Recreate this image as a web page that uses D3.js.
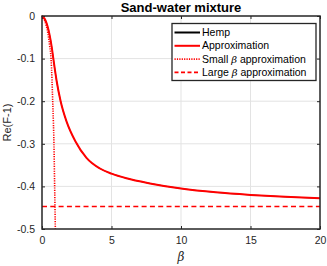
<!DOCTYPE html>
<html>
<head>
<meta charset="utf-8">
<script src="https://cdn.jsdelivr.net/npm/d3@7"></script>
<style>
  body { margin: 0; background: #fff; }
  svg { font-family: "Liberation Sans", Arial, sans-serif; }
</style>
</head>
<body>
<svg width="327" height="266"></svg>
<script>
const width = 327;
const height = 266;
const margin = { top: 16, right: 7, bottom: 37, left: 42 };
const innerWidth = width - margin.left - margin.right;
const innerHeight = height - margin.top - margin.bottom;

// values
const xTicks = [0, 5, 10, 15, 20];
const yTicks = [0, -0.1, -0.2, -0.3, -0.4, -0.5];
const yTickLabels = ["0", "-0.1", "-0.2", "-0.3", "-0.4", "-0.5"];

const approxBeta = [0, 0.26, 0.53, 0.7, 0.81, 1.05, 1.34, 1.77, 2.4, 3.2, 4.17, 5, 6.08, 7.76, 10, 12.5, 15, 17.5, 20];
const approxVal = [0, -0.011, -0.042, -0.073, -0.099, -0.152, -0.2, -0.248, -0.294, -0.333, -0.358, -0.37, -0.381, -0.393, -0.405, -0.414, -0.42, -0.4245, -0.428];
const hempBeta = approxBeta;
const hempVal = approxVal;
const smallBeta = [0, 0.19, 0.43, 0.55, 0.65, 0.72, 0.77, 0.82, 0.86, 0.91, 0.96];
const smallVal = [0, -0.011, -0.042, -0.07, -0.1, -0.15, -0.2, -0.25, -0.3, -0.4, -0.5];
const largeBeta = [0, 20];
const largeVal = [-0.447, -0.447];

const legendItems = [
    { label: "Hemp", color: "#000", dash: null },
    { label: "Approximation", color: "#f00", dash: null },
    { label: "Small |β| approximation", color: "#f00", dash: "1.2,1.2" },
    { label: "Large |β| approximation", color: "#f00", dash: "4,2.5" },
];

const svg = d3.select("svg");
const g = svg.append("g").attr("transform", `translate(${margin.left}, ${margin.top})`);

const x = d3.scaleLinear().domain([0, 20]).range([0, innerWidth]);
const y = d3.scaleLinear().domain([-0.5, 0]).range([innerHeight, 0]);

// grid
g.append("g").selectAll("line").data(xTicks.slice(1, -1)).enter().append("line")
    .attr("x1", (d) => x(d)).attr("x2", (d) => x(d))
    .attr("y1", 0).attr("y2", innerHeight)
    .attr("stroke", "#e3e3e3").attr("stroke-width", 1);
g.append("g").selectAll("line").data(yTicks.slice(1, -1)).enter().append("line")
    .attr("y1", (d) => y(d)).attr("y2", (d) => y(d))
    .attr("x1", 0).attr("x2", innerWidth)
    .attr("stroke", "#e3e3e3").attr("stroke-width", 1);

// axes
const axisColor = "#262626";
const styleAxis = (sel) => {
    sel.select(".domain").remove();
    sel.selectAll(".tick line").attr("stroke", axisColor);
    sel.selectAll(".tick text").attr("fill", axisColor).attr("font-size", 10.5);
};
const noLabels = (sel) => sel.selectAll(".tick text").remove();
g.append("g").attr("transform", `translate(0, ${innerHeight})`)
    .call(d3.axisBottom(x).tickValues(xTicks).tickSizeInner(-3).tickSizeOuter(0).tickPadding(8))
    .call(styleAxis);
g.append("g")
    .call(d3.axisTop(x).tickValues(xTicks).tickSizeInner(-3).tickSizeOuter(0))
    .call(styleAxis).call(noLabels);
g.append("g")
    .call(d3.axisLeft(y).tickValues(yTicks).tickSizeInner(-3).tickSizeOuter(0).tickPadding(7)
        .tickFormat((d, i) => yTickLabels[i]))
    .call(styleAxis);
g.append("g").attr("transform", `translate(${innerWidth}, 0)`)
    .call(d3.axisRight(y).tickValues(yTicks).tickSizeInner(-3).tickSizeOuter(0))
    .call(styleAxis).call(noLabels);

// lines
const line = d3.line().x((d) => x(d[0])).y((d) => y(d[1])).curve(d3.curveMonotoneX);
const plotG = g.append("g");
plotG.append("path").datum(d3.zip(hempBeta, hempVal))
    .attr("d", line).attr("fill", "none").attr("stroke", "#000").attr("stroke-width", 0.8);
plotG.append("path").datum(d3.zip(approxBeta, approxVal))
    .attr("d", line).attr("fill", "none").attr("stroke", "#f00").attr("stroke-width", 2);
plotG.append("path").datum(d3.zip(smallBeta, smallVal))
    .attr("d", line).attr("fill", "none").attr("stroke", "#f00").attr("stroke-width", 1.6)
    .attr("stroke-dasharray", "1.2,1.2");
plotG.append("path").datum(d3.zip(largeBeta, largeVal))
    .attr("d", line).attr("fill", "none").attr("stroke", "#f00").attr("stroke-width", 1.5)
    .attr("stroke-dasharray", "5,3.3");

// box
g.append("rect").attr("width", innerWidth).attr("height", innerHeight)
    .attr("fill", "none").attr("stroke", axisColor).attr("stroke-width", 1.5);

// title and labels
svg.append("text").attr("x", margin.left + innerWidth / 2).attr("y", 12)
    .attr("text-anchor", "middle").attr("font-weight", "bold").attr("font-size", 13)
    .attr("fill", "#000").text("Sand-water mixture");
svg.append("text").attr("x", margin.left + innerWidth / 2).attr("y", 261)
    .attr("text-anchor", "middle").attr("font-style", "italic").attr("font-size", 12)
    .attr("fill", axisColor).attr("font-family", "DejaVu Serif, serif").text("β");
svg.append("text").attr("transform", `translate(11, ${margin.top + innerHeight / 2}) rotate(-90)`)
    .attr("text-anchor", "middle").attr("font-size", 11).attr("fill", axisColor).text("Re(F-1)");

// legend
const legend = svg.append("g").attr("transform", "translate(172, 23.5)");
legend.append("rect").attr("width", 144).attr("height", 57)
    .attr("fill", "#fff").attr("stroke", axisColor).attr("stroke-width", 1.3);
const rows = legend.selectAll(".row").data(legendItems).enter().append("g")
    .attr("transform", (d, i) => `translate(0, ${9 + i * 13.3})`);
rows.append("line").attr("x1", 2.5).attr("x2", 28)
    .attr("stroke", (d) => d.color).attr("stroke-width", (d) => d.dash ? 1.6 : 2)
    .attr("stroke-dasharray", (d) => d.dash);
const labels = rows.append("text").attr("x", 30).attr("dy", "0.35em")
    .attr("font-size", 10.5).attr("fill", "#000");
labels.each(function (d) {
    const parts = d.label.split("|");
    const t = d3.select(this);
    parts.forEach((p, i) => {
        const span = t.append("tspan").text(p);
        if (i === 1) span.attr("font-style", "italic").attr("font-family", "DejaVu Serif, serif").attr("font-size", 10);
    });
});
</script>
</body>
</html>
